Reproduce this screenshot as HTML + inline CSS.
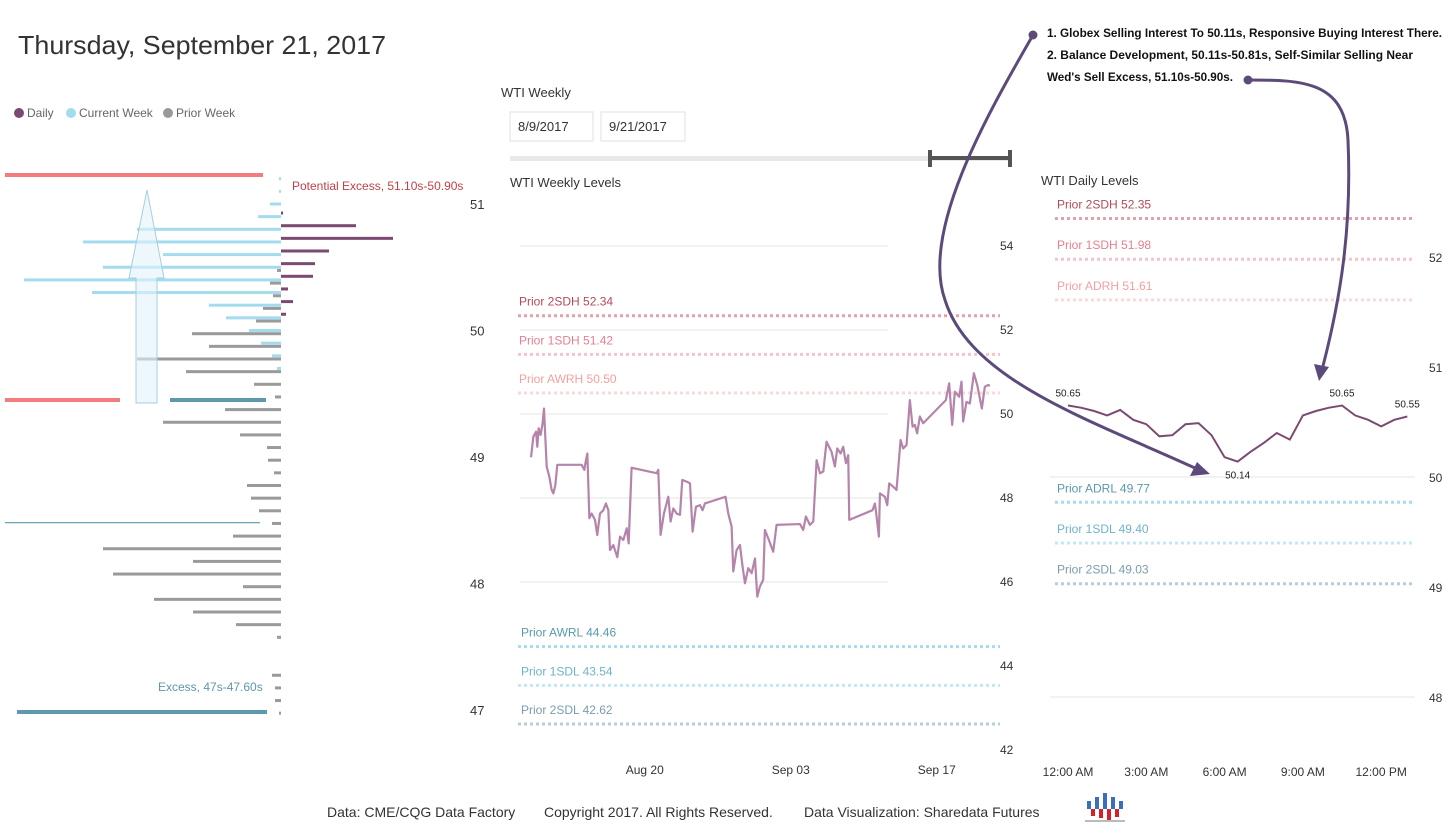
<!DOCTYPE html>
<html><head><meta charset="utf-8"><style>
body{margin:0;background:#fff;}
svg{display:block;font-family:"Liberation Sans",sans-serif;}
</style></head><body>
<svg id="s" width="1451" height="830" viewBox="0 0 1451 830">
<text x="18" y="54" font-size="26" fill="#333" textLength="368" lengthAdjust="spacingAndGlyphs">Thursday, September 21, 2017</text>
<g font-size="12" fill="#666">
<circle cx="19" cy="113" r="5" fill="#7b4a72"/><text x="27" y="117">Daily</text>
<circle cx="71" cy="113" r="5" fill="#a3dcef"/><text x="79" y="117">Current Week</text>
<circle cx="168" cy="113" r="5" fill="#999"/><text x="176" y="117">Prior Week</text>
</g>
<g id="profile"></g>
<text x="501" y="97" font-size="13" fill="#333">WTI Weekly</text>
<rect x="510" y="112" width="83" height="29" fill="#fff" stroke="#e0e0e0"/>
<text x="518" y="131" font-size="13" fill="#333">8/9/2017</text>
<rect x="601" y="112" width="84" height="29" fill="#fff" stroke="#e0e0e0"/>
<text x="609" y="131" font-size="13" fill="#333">9/21/2017</text>
<rect x="510" y="156" width="500" height="5" fill="#e8e8e8"/>
<rect x="930" y="156" width="80" height="4" fill="#555"/>
<rect x="928" y="150" width="4" height="17" fill="#555"/>
<rect x="1008" y="150" width="4" height="17" fill="#555"/>
<text x="510" y="187" font-size="13" fill="#333">WTI Weekly Levels</text>
<g id="weekly"></g>
<text x="1041" y="185" font-size="13" fill="#333">WTI Daily Levels</text>
<g id="daily"></g>
<g font-size="12" font-weight="bold" fill="#111">
<text x="1047" y="37" textLength="395" lengthAdjust="spacingAndGlyphs">1. Globex Selling Interest To 50.11s, Responsive Buying Interest There.</text>
<text x="1047" y="59" textLength="366" lengthAdjust="spacingAndGlyphs">2. Balance Development, 50.11s-50.81s, Self-Similar Selling Near</text>
<text x="1047" y="81" textLength="186" lengthAdjust="spacingAndGlyphs">Wed's Sell Excess, 51.10s-50.90s.</text>
</g>
<g stroke="#5b4a7a" stroke-width="3" fill="none">
<circle cx="1033" cy="35" r="3" fill="#5b4a7a"/>
<path d="M1033,35 C990,110 920,230 945,300 C970,380 1090,420 1195,468"/>
<polygon points="1210,474 1190,476 1197,462" fill="#5b4a7a" stroke="none"/>
<circle cx="1248" cy="80" r="3" fill="#5b4a7a"/>
<path d="M1248,80 C1300,80 1345,80 1348,140 C1352,230 1340,300 1323,366"/>
<polygon points="1319,381 1314,364 1329,367" fill="#5b4a7a" stroke="none"/>
</g>
<text x="327" y="817" font-size="14" fill="#333">Data: CME/CQG Data Factory</text>
<text x="544" y="817" font-size="14" fill="#333">Copyright 2017. All Rights Reserved.</text>
<text x="804" y="817" font-size="14" fill="#333">Data Visualization: Sharedata Futures</text>
<g>
<rect x="1087" y="801" width="4" height="8" fill="#3a6fc0"/><rect x="1095" y="797" width="4" height="12" fill="#3a6fc0"/><rect x="1103" y="793" width="4" height="16" fill="#3a6fc0"/><rect x="1111" y="797" width="4" height="12" fill="#3a6fc0"/><rect x="1119" y="801" width="4" height="8" fill="#3a6fc0"/>
<rect x="1091" y="809" width="4" height="7" fill="#d8202a"/><rect x="1099" y="809" width="4" height="9" fill="#d8202a"/><rect x="1107" y="809" width="4" height="11" fill="#d8202a"/><rect x="1115" y="809" width="4" height="8" fill="#d8202a"/>
<rect x="1085" y="820" width="40" height="2" fill="#bbb"/>
</g>
</svg>
<script>
// ---------- Volume profile data ----------
const profilePrices = [51.2,51.1,51.0,50.9,50.8,50.7,50.6,50.5,50.4,50.3,50.2,50.1,50.0,49.9,49.8,49.7,49.6,49.5,49.4,49.3,49.2,49.1,49.0,48.9,48.8,48.7,48.6,48.5,48.4,48.3,48.2,48.1,48.0,47.9,47.8,47.7,47.6,47.5,47.4,47.3,47.2,47.1,47.0];
const currentWeekVol = [2,2,11,23,144,198,118,178,257,189,72,55,32,20,9,4,0,0,0,0,0,0,0,0,0,0,0,0,0,0,0,0,0,0,0,0,0,0,0,0,0,0,0];
const dailyVol = [0,0,0,2,75,112,48,34,32,7,12,5,0,0,0,0,0,0,0,0,0,0,0,0,0,0,0,0,0,0,0,0,0,0,0,0,0,0,0,0,0,0,0];
const priorWeekVol = [0,0,0,0,0,0,0,4,11,8,18,25,89,72,144,95,27,6,56,118,41,14,13,7,34,30,22,9,48,178,88,168,38,127,88,45,4,0,0,9,6,6,2];
const profileAxisTicks = [51,50,49,48,47];

// ---------- Weekly chart data ----------
const weeklyDays = [0.10,0.32,0.58,0.70,0.83,1.02,1.21,1.34,1.60,1.85,2.08,2.24,2.43,2.62,4.95,5.21,5.34,5.50,5.69,5.91,6.23,6.45,6.71,7.03,7.28,7.51,7.67,7.99,8.37,8.63,8.95,9.27,9.46,9.74,12.14,12.30,12.52,12.84,13.26,13.48,13.74,14.06,14.38,14.60,15.02,15.34,15.59,15.91,16.29,16.55,16.77,18.75,19.01,19.33,19.49,19.81,20.13,20.38,20.61,20.93,21.25,21.57,21.79,22.04,22.36,22.52,22.84,23.32,23.64,25.88,26.20,26.45,26.84,27.16,27.48,27.80,28.12,28.43,28.91,29.23,29.46,29.78,30.03,30.29,30.51,30.61,32.84,33.07,33.23,33.45,33.55,34.03,34.25,34.44,34.82,35.14,35.53,35.78,36.10,36.42,36.68,36.90,37.12,37.38,37.70,39.87,40.19,40.48,40.73,41.15,41.37,41.53,41.85,42.17,42.56,42.88,43.32,43.61,43.93,44.09];
const weeklyPrices = [48.97,49.46,49.58,49.22,49.66,49.50,49.78,50.13,48.75,48.51,48.19,48.11,48.31,48.79,48.79,48.67,48.87,49.06,47.52,47.63,47.48,47.12,47.63,47.71,47.87,47.71,46.76,46.88,46.59,47.08,47.00,47.28,46.92,48.72,48.59,48.67,47.12,47.63,48.03,47.44,47.75,47.63,47.60,48.43,48.39,48.35,47.20,47.79,47.83,47.71,47.87,48.03,47.63,47.32,46.25,46.76,46.88,46.37,45.97,46.33,46.21,46.56,45.65,45.89,46.05,47.24,47.04,46.72,47.36,47.38,47.24,47.56,47.36,47.44,48.90,48.59,48.63,49.34,49.10,48.75,49.18,49.06,49.22,48.83,49.02,47.48,47.71,47.87,47.56,47.08,48.11,48.03,47.83,48.35,48.27,48.19,49.38,49.18,49.26,50.33,49.70,49.74,49.54,49.94,49.78,50.33,50.73,49.74,50.53,50.41,50.77,49.82,50.29,50.25,50.97,50.69,50.13,50.65,50.69,50.67];
const weeklyYTicks = [54,52,50,48,46,44,42];
const weeklyXTickDays = [11,25,39];
const weeklyXTickLabels = ["Aug 20","Sep 03","Sep 17"];
const weeklyLevelNames = ["Prior 2SDH","Prior 1SDH","Prior AWRH","Prior AWRL","Prior 1SDL","Prior 2SDL"];
const weeklyLevelValues = [52.34,51.42,50.50,44.46,43.54,42.62];

// ---------- Daily chart data ----------
const dailyHours = [0,0.5,1,1.5,2,2.5,3,3.5,4,4.5,5,5.5,6,6.5,7,7.5,8,8.5,9,9.5,10,10.5,11,11.5,12,12.5,13];
const dailyPrices = [50.65,50.63,50.60,50.56,50.61,50.52,50.48,50.37,50.38,50.48,50.49,50.38,50.18,50.14,50.23,50.31,50.40,50.34,50.56,50.60,50.63,50.65,50.56,50.52,50.46,50.52,50.55];
const dailyLabelIdx = [0,13,21,26];
const dailyYTicks = [52,51,50,49,48];
const dailyXTickHours = [0,3,6,9,12];
const dailyXTickLabels = ["12:00 AM","3:00 AM","6:00 AM","9:00 AM","12:00 PM"];
const dailyLevelNames = ["Prior 2SDH","Prior 1SDH","Prior ADRH","Prior ADRL","Prior 1SDL","Prior 2SDL"];
const dailyLevelValues = [52.35,51.98,51.61,49.77,49.40,49.03];

const levelLabelColors = ["#b5485a","#e57f92","#f4a0a0","#5a9aad","#6fb3c9","#7a9eaa"];
const levelLineColors = ["#e3a1ab","#f5c3cc","#fbd9d9","#a6dcef","#c3e8f5","#b5cfd7"];

const NS="http://www.w3.org/2000/svg";
function mk(parent,tag,attrs){const e=document.createElementNS(NS,tag);for(const k in attrs)e.setAttribute(k,attrs[k]);parent.appendChild(e);return e;}

// Profile
(function(){
  const g=document.getElementById('profile');
  const pY=v=>204+(51-v)*126.5;
  const cx=281, k=1;
  let e;
  e=mk(g,'rect',{x:5,y:173,width:258,height:4,fill:'#f47c7c'});
   
  e=mk(g,'rect',{x:5,y:398,width:115,height:4,fill:'#f47c7c'});
   
  e=mk(g,'rect',{x:170,y:398,width:96,height:4,fill:'#5d98ab'});
   
  e=mk(g,'rect',{x:5,y:522,width:255,height:1.3,fill:'#6ea8b8'});
   
  e=mk(g,'rect',{x:17,y:710,width:250,height:4,fill:'#5d98ab'});
   
  profilePrices.forEach((p,i)=>{
    const y=pY(p);
    if(currentWeekVol[i]>0){e=mk(g,'rect',{x:cx-currentWeekVol[i]*k,y:y-1.5,width:currentWeekVol[i]*k,height:3,fill:'#a3dcef'});
       }
    if(priorWeekVol[i]>0){e=mk(g,'rect',{x:cx-priorWeekVol[i]*k,y:y+3.2-1.5,width:priorWeekVol[i]*k,height:3,fill:'#9a9a9a'});
       }
    if(dailyVol[i]>0){e=mk(g,'rect',{x:cx,y:y-3.6-1.5,width:dailyVol[i]*k,height:3,fill:'#7b4a72'});
       }
  });
  e=mk(g,'path',{d:'M136,403 L136,278 L129,278 L147,190 L164,278 L157,278 L157,403 Z',fill:'rgba(225,242,250,0.6)',stroke:'#a6cfdc','stroke-width':1});
   
  profileAxisTicks.forEach(t=>{e=mk(g,'text',{x:470,y:pY(t)+5,'font-size':13,fill:'#333'});e.textContent=t;
     });
  e=mk(g,'text',{x:292,y:190,'font-size':12,fill:'#c0404a'});e.textContent='Potential Excess, 51.10s-50.90s';
   
  e=mk(g,'text',{x:158,y:691,'font-size':12,fill:'#5d98ab'});e.textContent='Excess, 47s-47.60s';
   
})();

// Weekly
(function(){
  const g=document.getElementById('weekly');
  const xS=d=>530+d*10.43, yS=v=>414-(v-50)*42;
  let e;
  weeklyYTicks.forEach(t=>{
    if(t>=46&&t<=54){e=mk(g,'line',{x1:520,x2:888,y1:yS(t),y2:yS(t),stroke:'#e6e6e6','stroke-width':1});
       }
    e=mk(g,'text',{x:1000,y:yS(t)+4,'font-size':12,fill:'#333'});e.textContent=t;
     
  });
  weeklyLevelValues.forEach((v,i)=>{
    e=mk(g,'line',{x1:518,x2:1000,y1:yS(v),y2:yS(v),stroke:levelLineColors[i],'stroke-width':3,'stroke-dasharray':'3,3'});
     
    e=mk(g,'text',{x:i<3?519:521,y:yS(v)-10,'font-size':12,fill:levelLabelColors[i]});
    e.textContent=weeklyLevelNames[i]+' '+v.toFixed(2);
     
  });
  e=mk(g,'polyline',{points:weeklyDays.map((d,i)=>xS(d)+','+yS(weeklyPrices[i])).join(' '),fill:'none',stroke:'#b584aa','stroke-width':2.2,'stroke-linejoin':'round'});
   
  weeklyXTickDays.forEach((d,i)=>{e=mk(g,'text',{x:xS(d),y:774,'font-size':12,fill:'#333','text-anchor':'middle'});
    e.textContent=weeklyXTickLabels[i];
     });
})();

// Daily
(function(){
  const g=document.getElementById('daily');
  const xS=h=>1068+h*26.1, yS=v=>477-(v-50)*110;
  let e;
  [50,48].forEach(t=>{e=mk(g,'line',{x1:1050,x2:1415,y1:yS(t),y2:yS(t),stroke:'#e6e6e6'});
     });
  dailyYTicks.forEach(t=>{e=mk(g,'text',{x:1429,y:yS(t)+5,'font-size':12,fill:'#333'});e.textContent=t;
     });
  dailyLevelValues.forEach((v,i)=>{
    e=mk(g,'line',{x1:1055,x2:1415,y1:yS(v),y2:yS(v),stroke:levelLineColors[i],'stroke-width':3,'stroke-dasharray':'3,3'});
     
    e=mk(g,'text',{x:1057,y:yS(v)-10,'font-size':12,fill:levelLabelColors[i]});
    e.textContent=dailyLevelNames[i]+' '+v.toFixed(2);
     
  });
  e=mk(g,'polyline',{points:dailyHours.map((h,i)=>xS(h)+','+yS(dailyPrices[i])).join(' '),fill:'none',stroke:'#7b4a72','stroke-width':2});
   
  dailyLabelIdx.forEach(i=>{
    const below=i===13;
    e=mk(g,'text',{x:xS(dailyHours[i]),y:below?yS(dailyPrices[i])+17:yS(dailyPrices[i])-9,'font-size':10,fill:'#222','text-anchor':'middle'});
    e.textContent=dailyPrices[i].toFixed(2);
     
  });
  dailyXTickHours.forEach((h,i)=>{e=mk(g,'text',{x:xS(h),y:776,'font-size':12,fill:'#333','text-anchor':'middle'});
    e.textContent=dailyXTickLabels[i];
     });
})();
</script>
</body></html>
